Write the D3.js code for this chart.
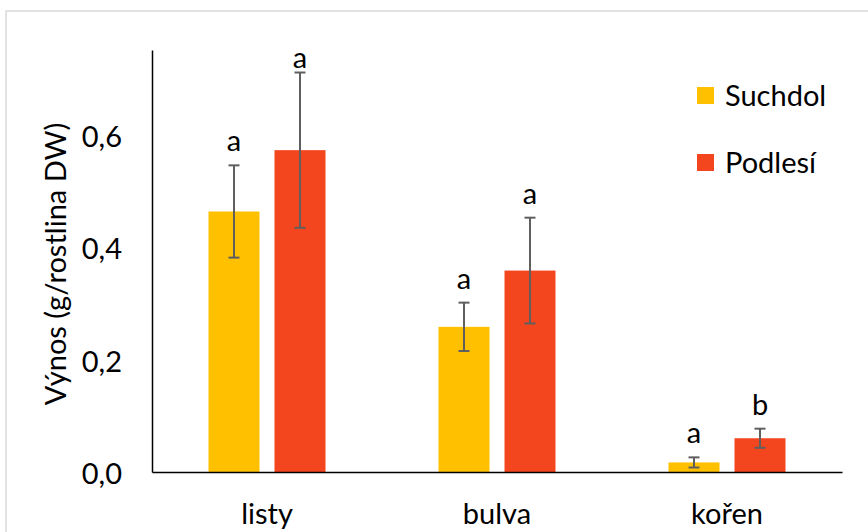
<!DOCTYPE html>
<html>
<head>
<meta charset="utf-8">
<script src="https://cdn.jsdelivr.net/npm/d3@7"></script>
<style>
  html, body { margin: 0; padding: 0; background: #fff; }
  svg { display: block; }
  text { font-family: Lato, "Open Sans", sans-serif; fill: #000; }
</style>
</head>
<body>
<svg id="chart" width="868" height="532"></svg>
<script>
// Plant parts and the two sites
const categories = ["listy", "bulva", "kořen"];
const series = ["Suchdol", "Podlesí"];
// Mean yield (g / plant dry weight) per part, per site
const suchdol = [0.463, 0.258, 0.017];
const podlesi = [0.572, 0.358, 0.060];
// Error bar half-lengths
const suchdolErr = [0.082, 0.043, 0.009];
const podlesiErr = [0.138, 0.094, 0.017];
// Significance letters
const suchdolLetters = ["a", "a", "a"];
const podlesiLetters = ["a", "a", "b"];
const yTicks = [0, 0.2, 0.4, 0.6];
const colors = ["#FFC000", "#F4461E"];

const svg = d3.select("#chart");

// light outer frame
svg.append("rect")
  .attr("x", 6).attr("y", 11)
  .attr("width", 900).attr("height", 600)
  .attr("fill", "none").attr("stroke", "#d9d9d9").attr("stroke-width", 1.5);

const plotLeft = 152, plotRight = 842, plotTop = 50, plotBottom = 472;

const x0 = d3.scaleBand().domain(categories).range([plotLeft, plotRight]).paddingInner(0).paddingOuter(0);
const step = 66, barW = 51;
const x1 = d3.scaleBand().domain(series)
  .range([0, x0.bandwidth()])
  .paddingInner((step - barW) / step)
  .paddingOuter((x0.bandwidth() / step - 2 + (step - barW) / step) / 2);
const y = d3.scaleLinear().domain([0, 0.75]).range([plotBottom, plotTop]);

const rows = categories.map((c, i) => series.map((s, j) => ({
  cat: c, s,
  v: j === 0 ? suchdol[i] : podlesi[i],
  e: j === 0 ? suchdolErr[i] : podlesiErr[i],
  letter: j === 0 ? suchdolLetters[i] : podlesiLetters[i],
  color: colors[j]
}))).flat();

const cx = d => x0(d.cat) + x1(d.s) + x1.bandwidth() / 2;

// bars
svg.append("g").selectAll("rect").data(rows).join("rect")
  .attr("x", d => x0(d.cat) + x1(d.s))
  .attr("y", d => y(d.v))
  .attr("width", x1.bandwidth())
  .attr("height", d => y(0) - y(d.v))
  .attr("fill", d => d.color);

// error bars
const eg = svg.append("g").attr("stroke", "#5f5f5f").attr("stroke-width", 2).attr("fill", "none");
rows.forEach(d => {
  const x = cx(d), y1 = y(d.v + d.e), y2 = y(Math.max(0, d.v - d.e));
  eg.append("line").attr("x1", x).attr("x2", x).attr("y1", y1).attr("y2", y2);
  eg.append("line").attr("x1", x - 5.5).attr("x2", x + 5.5).attr("y1", y1).attr("y2", y1);
  eg.append("line").attr("x1", x - 5.5).attr("x2", x + 5.5).attr("y1", y2).attr("y2", y2);
});

// significance letters above the error bars, kept inside the plot top
svg.append("g").selectAll("text").data(rows).join("text")
  .attr("x", d => cx(d))
  .attr("y", d => Math.max(y(d.v + d.e) - 14, plotTop + 18))
  .attr("text-anchor", "middle")
  .attr("font-size", 29)
  .text(d => d.letter);

// axes
const yAxis = d3.axisLeft(y).tickValues(yTicks).tickSize(0).tickPadding(30)
  .tickFormat(d => d3.format(".1f")(d).replace(".", ","));
const gy = svg.append("g").attr("transform", `translate(${plotLeft},0)`).call(yAxis);
gy.select(".domain").attr("stroke", "#000").attr("stroke-width", 1.5);
gy.selectAll(".tick text").attr("font-size", 29).attr("font-family", "Lato, sans-serif")
  .attr("fill", "#000").attr("dy", "0.40em");

const xAxis = d3.axisBottom(x0).tickSize(0).tickPadding(31);
const gx = svg.append("g").attr("transform", `translate(0,${plotBottom})`).call(xAxis);
gx.select(".domain").attr("stroke", "#000").attr("stroke-width", 1.5);
gx.selectAll(".tick text").attr("font-size", 29).attr("font-family", "Lato, sans-serif")
  .attr("fill", "#000");

// y-axis title
svg.append("text")
  .attr("transform", "translate(66,264) rotate(-90)")
  .attr("text-anchor", "middle")
  .attr("font-size", 29)
  .text("Výnos (g/rostlina DW)");

// legend
const lg = svg.append("g");
series.forEach((s, j) => {
  const ly = 87 + j * 67;
  lg.append("rect").attr("x", 697).attr("y", ly).attr("width", 17).attr("height", 17).attr("fill", colors[j]);
  lg.append("text").attr("x", 725).attr("y", ly + 19).attr("font-size", 29).text(s);
});
</script>
</body>
</html>
